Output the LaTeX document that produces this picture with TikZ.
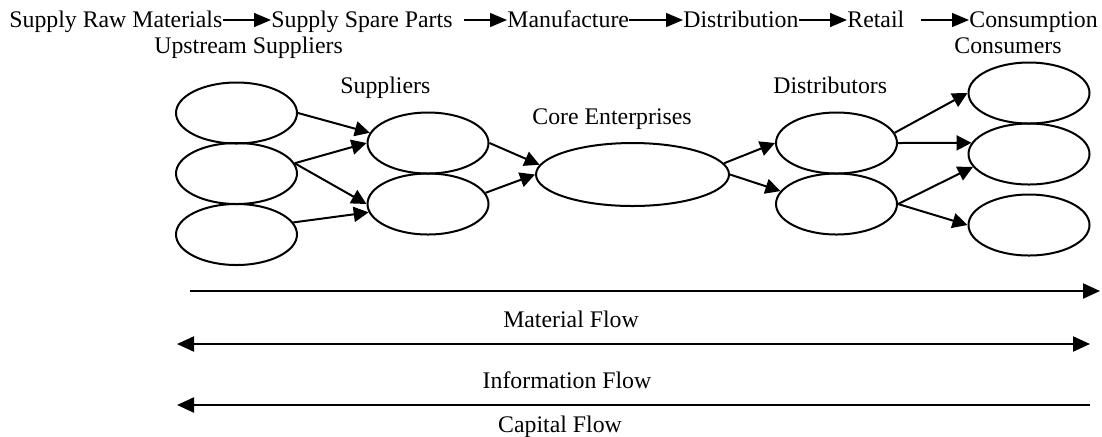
\documentclass[tikz,border=0pt]{standalone}
\usepackage{fontspec}
\setmainfont{Liberation Serif}
\usetikzlibrary{shapes.geometric, arrows.meta}
\begin{document}
\begin{tikzpicture}[
  x=0.5pt, y=-0.5pt,
  scmellipse/.style = {ellipse, draw, line width=1pt, inner sep=0pt, minimum width=60.5pt, minimum height=30.5pt},
  scmcore/.style = {scmellipse, minimum width=96.5pt, minimum height=31.5pt},
  scmarrow/.style = {-{Triangle[length=7.5pt, width=7.5pt]}, line width=1pt},
  scmstep/.style = {-{Triangle[length=8.5pt, width=7pt]}, line width=0.7pt},
  scmflow/.style = {line width=1.1pt},
  scmtip/.tip = {Triangle[length=8.5pt, width=7.5pt]},
  scmlbl/.style = {font=\fontsize{11.9}{14}\selectfont, inner sep=0pt},
  scmstage/.style = {scmlbl, anchor=base west, text height=9pt, text depth=2pt}
]
  \useasboundingbox (0,0) rectangle (1102,436);
  % stages along the chain
  \node[scmstage] (raw)     at (9,27)   {Supply Raw Materials};
  \node[scmstage] (spare)   at (271,27) {Supply Spare Parts};
  \node[scmstage] (manu)    at (507,27) {Manufacture};
  \node[scmstage] (distrib) at (683,27) {Distribution};
  \node[scmstage] (retail)  at (847,27) {Retail};
  \node[scmstage] (consump) at (969,27) {Consumption};
  \draw[scmstep] (raw) -- (spare);
  \draw[scmstep, shorten <=5.5pt] (spare) -- (manu);
  \draw[scmstep] (manu) -- (distrib);
  \draw[scmstep] (distrib) -- (retail);
  \draw[scmstep, shorten <=8pt] (retail) -- (consump);
  \node[scmlbl, anchor=base west] (upstream)  at (154,53) {Upstream Suppliers};
  \node[scmlbl, anchor=base west] (consumers) at (954,53) {Consumers};

  % group labels
  \node[scmlbl, anchor=base west] (supplbl) at (340,93)  {Suppliers};
  \node[scmlbl, anchor=base west] (corelbl) at (532,124) {Core Enterprises};
  \node[scmlbl, anchor=base west] (distlbl) at (773,93)  {Distributors};

  % upstream suppliers
  \node[scmellipse] (up1) at (236.5,113) {};
  \node[scmellipse] (up2) at (236.5,173.5) {};
  \node[scmellipse] (up3) at (236.5,234.5) {};
  % suppliers
  \node[scmellipse] (sup1) at (428,143) {};
  \node[scmellipse] (sup2) at (428,204) {};
  % core enterprise
  \node[scmcore] (core) at (632.5,174.5) {};
  % distributors
  \node[scmellipse] (dist1) at (836.5,143) {};
  \node[scmellipse] (dist2) at (836.5,204) {};
  % consumers
  \node[scmellipse] (con1) at (1029,93) {};
  \node[scmellipse] (con2) at (1029,154) {};
  \node[scmellipse] (con3) at (1029,225) {};

  \draw[scmarrow] (up1.east) -- (sup1.170);
  \draw[scmarrow] (up2.10) -- (sup1.west);
  \draw[scmarrow] (up2.10) -- (sup2.west);
  \draw[scmarrow] (up3.12) -- (sup2.188);
  \draw[scmarrow] (sup1.east) -- (core.174);
  \draw[scmarrow] (sup2.11) -- (core.west);
  \draw[scmarrow] (core.7) -- (dist1.west);
  \draw[scmarrow] (core.east) -- (dist2.167);
  \draw[scmarrow] (dist1.10) -- (con1.west);
  \draw[scmarrow] (dist1.east) -- (con2.169);
  \draw[scmarrow] (dist2.east) -- (con2.193);
  \draw[scmarrow] (dist2.east) -- (con3.west);

  % flows
  \coordinate (matL) at (190,291);
  \coordinate (matR) at (1100,291);
  \coordinate (infoL) at (177,344);
  \coordinate (infoR) at (1090,344);
  \coordinate (capL) at (177,405);
  \coordinate (capR) at (1090,405);
  \draw[scmflow, -scmtip] (matL) -- (matR);
  \draw[scmflow, scmtip-scmtip] (infoL) -- (infoR);
  \draw[scmflow, scmtip-] (capL) -- (capR);
  \node[scmlbl, anchor=base] (matlbl)  at (571,327) {Material Flow};
  \node[scmlbl, anchor=base] (infolbl) at (567,388) {Information Flow};
  \node[scmlbl, anchor=base] (caplbl)  at (560,432) {Capital Flow};
\end{tikzpicture}
\end{document}
